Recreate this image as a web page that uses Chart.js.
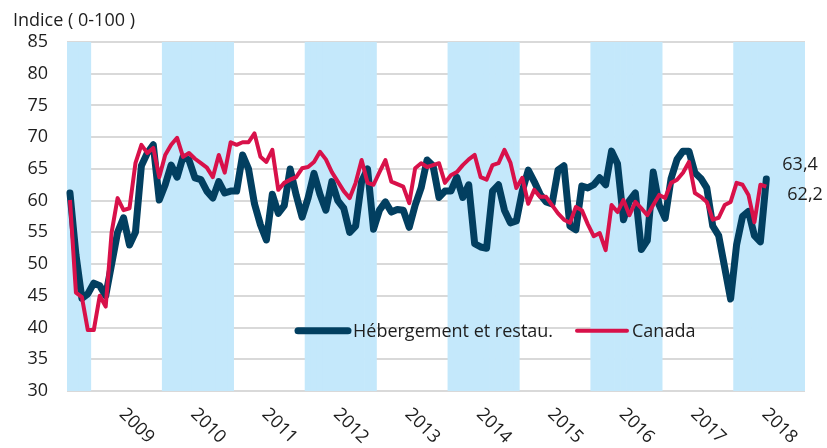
<!DOCTYPE html>
<html lang="fr">
<head>
<meta charset="utf-8">
<title>Indice ( 0-100 )</title>
<script src="https://cdn.jsdelivr.net/npm/chart.js@4.4.1/dist/chart.umd.min.js"></script>
<style>
  html, body { margin: 0; padding: 0; background: #fff; }
  #wrap { width: 827px; height: 448px; }
</style>
</head>
<body>
<div id="wrap"><canvas id="chart" width="827" height="448"></canvas></div>
<script>
// monthly axis: Sep 2008 .. Dec 2018
const firstYear = 2008;
const firstMonth = 9;
const lastYear = 2018;
const yearLabels = ['2009', '2010', '2011', '2012', '2013', '2014', '2015', '2016', '2017', '2018'];
const shadedYears = [2008, 2010, 2012, 2014, 2016, 2018];
const yMin = 30, yMax = 85, yStep = 5;

// Sep 2008 .. Jun 2018
const hebergement = [
  61.2, 51.5, 44.6, 45.3, 47, 46.6, 45, 50, 55, 57.3, 53, 55, 65.5, 67.5, 68.8, 60.1,
  62.5, 65.6, 63.7, 66.9, 66.4, 63.6, 63.3, 61.5, 60.4, 63, 61.2, 61.5,
  61.5, 67.2, 65, 59.5, 56.2, 53.8, 61, 58, 59.2, 65, 60.9, 57.4,
  60.4, 64.3, 61, 58.5, 63, 60, 58.8, 55, 56, 63, 65, 55.5,
  58.5, 59.8, 58.2, 58.6, 58.5, 55.8, 59.3, 62, 66.4, 65.5, 60.5, 61.5,
  61.5, 63.7, 60.5, 62.5, 53.2, 52.7, 52.5, 61.5, 62.5, 58.5, 56.5, 56.8,
  61.5, 64.8, 63, 61, 59.8, 59.5, 64.8, 65.5, 56, 55.4, 62.3, 62,
  62.5, 63.6, 62.5, 67.8, 65.8, 57, 60, 61.2, 52.3, 53.7, 64.5, 59.3,
  57.2, 63.5, 66.5, 67.8, 67.8, 64.4, 63.5, 62, 56, 54.5, 49.5, 44.5,
  53, 57.5, 58.3, 54.5, 53.5, 63.4
];
const canada = [
  60.1, 45.5, 44.8, 39.6, 39.6, 45, 43.3, 55, 60.4, 58.5, 58.8, 65.9, 68.8, 67.5, 68.3, 63.7,
  67.2, 68.8, 69.9, 66.9, 67.5, 66.6, 65.9, 65.2, 63.7, 67.2, 64.4, 69.2,
  68.8, 69.2, 69.2, 70.6, 66.9, 66.1, 68, 61.7, 62.8, 63.3, 63.7, 65.1,
  65.3, 66.1, 67.7, 66.5, 64.5, 63, 61.5, 60.4, 62.8, 66.4, 62.8, 62.5,
  64.5, 66.4, 63, 62.6, 62.2, 59.6, 65.1, 65.9, 65.3, 65.6, 65.9, 62.8,
  64, 64.5, 65.6, 66.5, 67.2, 63.7, 63.3, 65.6, 65.9, 68, 66, 62,
  63.6, 59.5, 61.7, 60.6, 60.6, 59.3, 58, 57, 56.5, 59, 58.5, 56.3,
  54.4, 54.9, 52.2, 59.3, 58.2, 60.1, 57.7, 59.8, 58.8, 57.7, 59.3, 60.9,
  60.4, 62.8, 63.3, 64.4, 66.1, 61.2, 60.6, 59.8, 57, 57.3, 59.3, 59.8,
  62.8, 62.5, 60.9, 56.6, 62.5, 62.2
];
const endLabels = ['63,4', '62,2'];

const NAVY = '#023f60';
const RED = '#d8114a';
const BAND = '#c4e8fb';
const TEXT = '#1e1e1e';
const FONT = '"Open Sans", "DejaVu Sans", sans-serif';

const months = [];
for (let y = firstYear; y <= lastYear; y++) {
  for (let m = (y === firstYear ? firstMonth : 1); m <= 12; m++) {
    months.push(y + '-' + String(m).padStart(2, '0'));
  }
}
const bands = months.map(k => shadedYears.includes(Number(k.slice(0, 4))) ? yMax : null);

// axis title, rotated year labels, legend and end-of-series values
const decorations = {
  id: 'decorations',
  afterDraw(chart) {
    const { ctx, chartArea, scales: { x, y } } = chart;
    ctx.save();
    ctx.fillStyle = TEXT;
    ctx.font = '18px ' + FONT;

    ctx.textAlign = 'left';
    ctx.textBaseline = 'alphabetic';
    ctx.fillText('Indice ( 0-100 )', 13, 26);

    ctx.textBaseline = 'top';
    yearLabels.forEach(yr => {
      const jun = months.indexOf(yr + '-06');
      const cx = (x.getPixelForValue(jun) + x.getPixelForValue(jun + 1)) / 2;
      ctx.save();
      ctx.translate(cx + 2, chartArea.bottom + 14);
      ctx.rotate(Math.PI / 4);
      ctx.fillText(yr, 0, 0);
      ctx.restore();
    });

    // legend inside the plot
    const ly = y.getPixelForValue(39.5);
    const items = [
      { label: 'Hébergement et restau.', color: NAVY, width: 7, x0: chartArea.left + 229 },
      { label: 'Canada', color: RED, width: 4, x0: chartArea.left + 508 }
    ];
    ctx.textBaseline = 'middle';
    ctx.lineCap = 'round';
    items.forEach(it => {
      ctx.strokeStyle = it.color;
      ctx.lineWidth = it.width;
      ctx.beginPath();
      ctx.moveTo(it.x0 + 2, ly);
      ctx.lineTo(it.x0 + 52, ly);
      ctx.stroke();
      ctx.fillText(it.label, it.x0 + 57, ly + 1);
    });

    const iH = hebergement.length - 1;
    const iC = canada.length - 1;
    ctx.fillText(endLabels[0], x.getPixelForValue(iH) + 16, y.getPixelForValue(hebergement[iH]) - 14);
    ctx.fillText(endLabels[1], x.getPixelForValue(iC) + 21, y.getPixelForValue(canada[iC]) + 8);
    ctx.restore();
  }
};

new Chart(document.getElementById('chart'), {
  type: 'bar',
  data: {
    labels: months,
    datasets: [
      {
        type: 'line',
        label: 'Canada',
        data: canada,
        borderColor: RED,
        borderWidth: 4,
        borderJoinStyle: 'round',
        pointRadius: 0,
        tension: 0,
        order: 1
      },
      {
        type: 'line',
        label: 'Hébergement et restau.',
        data: hebergement,
        borderColor: NAVY,
        borderWidth: 7,
        borderJoinStyle: 'round',
        borderCapStyle: 'round',
        pointRadius: 0,
        tension: 0,
        order: 2
      },
      {
        label: 'bands',
        data: bands,
        backgroundColor: BAND,
        borderWidth: 0,
        barPercentage: 1,
        categoryPercentage: 1,
        order: 3
      }
    ]
  },
  options: {
    responsive: false,
    animation: false,
    events: [],
    layout: { padding: { left: 0, top: 42, right: 22, bottom: 57 } },
    plugins: {
      legend: { display: false },
      tooltip: { enabled: false },
      title: { display: false }
    },
    scales: {
      x: {
        grid: { display: false },
        border: { display: false },
        ticks: { display: false },
        afterFit: s => { s.height = 0; }
      },
      y: {
        min: yMin,
        max: yMax,
        ticks: {
          stepSize: yStep,
          color: TEXT,
          padding: 19,
          font: { family: FONT, size: 18 }
        },
        grid: { color: '#d9d9d9', lineWidth: 2, drawTicks: false },
        border: { display: false },
        afterFit: s => { s.width = 67; }
      }
    }
  },
  plugins: [decorations]
});
</script>
</body>
</html>
